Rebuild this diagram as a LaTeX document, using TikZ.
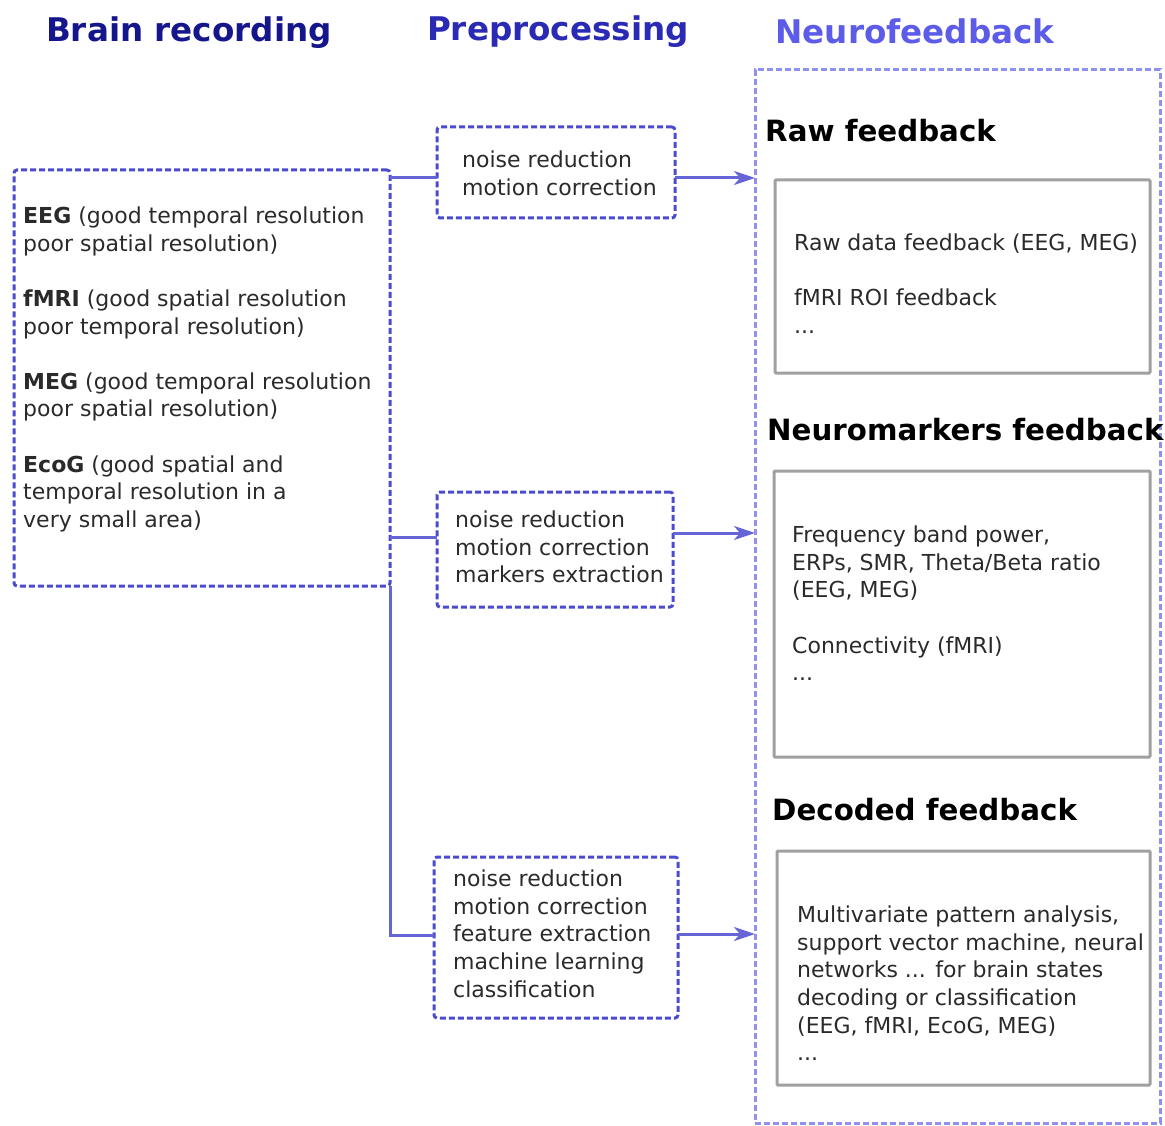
\documentclass[tikz,border=0pt]{standalone}
\usepackage{fontspec}
\setmainfont{DejaVu Sans}
\usetikzlibrary{arrows.meta}
\definecolor{hdA}{HTML}{16168C}
\definecolor{hdB}{HTML}{2A2AB4}
\definecolor{hdC}{HTML}{5C5CE8}
\definecolor{dcol}{HTML}{4B4BD0}
\definecolor{ccol}{HTML}{6565D8}
\definecolor{ocol}{HTML}{9090F0}
\definecolor{gcol}{HTML}{A0A0A0}
\definecolor{tcol}{HTML}{2A2A2A}
\begin{document}
\begin{tikzpicture}[x=1pt,y=-1pt,
  dbox/.style={draw=dcol, line width=3pt, dash pattern=on 6pt off 3pt, rounded corners=3pt, inner sep=0pt, outer sep=0pt, anchor=north west},
  obox/.style={draw=ocol, line width=3pt, dash pattern=on 6pt off 3pt, inner sep=0pt, outer sep=0pt, anchor=north west},
  gbox/.style={draw=gcol, line width=3pt, rounded corners=1pt, inner sep=0pt, outer sep=0pt, anchor=north west},
  body/.style={font=\fontsize{22}{27.6}\selectfont, text=tcol, align=left, inner sep=0pt, anchor=north west},
  ttl/.style={font=\bfseries\fontsize{29.3}{34}\selectfont, text=black, inner sep=0pt, anchor=base west},
  hdr/.style={font=\bfseries\fontsize{32.6}{36}\selectfont, inner sep=0pt, anchor=base},
  conn/.style={draw=ccol, line width=3pt},
  arr/.style={draw=ccol, line width=3pt, -{Stealth[length=21pt,width=14pt,inset=6pt]}}
]
\useasboundingbox (0,0) rectangle (1165,1126);

% headers
\node[hdr, text=hdA] (h1) at (189,42) {Brain recording};
\node[hdr, text=hdB] (h2) at (558,41) {Preprocessing};
\node[hdr, text=hdC] (h3) at (915,44) {Neurofeedback};

% left box
\node[dbox, minimum width=376pt, minimum height=416pt] (rec) at (14,170) {};
\node[body] (rectxt) at (23,204.2) {\strut\textbf{EEG} (good temporal resolution\\poor spatial resolution)\\[27.6pt]\textbf{fMRI} (good spatial resolution\\poor temporal resolution)\\[27.6pt]\textbf{MEG} (good temporal resolution\\poor spatial resolution)\\[27.6pt]\textbf{EcoG} (good spatial and\\temporal resolution in a\\very small area)};

% preprocessing boxes
\node[dbox, minimum width=238pt, minimum height=91pt] (pre1) at (437,127) {};
\node[body] (pre1t) at (462,148.2) {\strut noise reduction\\motion correction};
\node[dbox, minimum width=236pt, minimum height=115pt] (pre2) at (437,492) {};
\node[body] (pre2t) at (455,508.2) {\strut noise reduction\\motion correction\\markers extraction};
\node[dbox, minimum width=244pt, minimum height=161pt] (pre3) at (434,857) {};
\node[body] (pre3t) at (453,867.2) {\strut noise reduction\\motion correction\\feature extraction\\machine learning\\classification};

% neurofeedback outer box
\node[obox, minimum width=405pt, minimum height=1053pt] (nf) at (755,70) {};

\node[ttl] (t1) at (765,142) {Raw feedback};
\node[gbox, minimum width=375pt, minimum height=193pt] (g1) at (775,180) {};
\node[body] (g1t) at (794,231.2) {\strut Raw data feedback (EEG, MEG)\\[27.6pt]fMRI ROI feedback\\...};

\node[ttl] (t2) at (767,440) {Neuromarkers feedback};
\node[gbox, minimum width=376pt, minimum height=286pt] (g2) at (774,471) {};
\node[body] (g2t) at (792,523.2) {\strut Frequency band power,\\ERPs, SMR, Theta/Beta ratio\\(EEG, MEG)\\[27.6pt]Connectivity (fMRI)\\...};

\node[ttl] (t3) at (772,820) {Decoded feedback};
\node[gbox, minimum width=373pt, minimum height=234pt] (g3) at (777,851) {};
\node[body] (g3t) at (797,903.2) {\strut Multivariate pattern analysis,\\support vector machine, neural\\networks ... for brain states\\decoding or classification\\(EEG, fMRI, EcoG, MEG)\\...};

% connectors
\coordinate (j1) at (390,178);
\coordinate (j2) at (390,537);
\coordinate (j3) at (390,935);
\draw[conn] (j1) -- (j1 -| pre1.west);
\draw[conn] (j2) -- (j2 -| pre2.west);
\draw[conn] (rec.south -| j3) -- (j3) -- (j3 -| pre3.west);

\coordinate (a1) at (700,178);
\coordinate (a2) at (700,533);
\coordinate (a3) at (700,934);
\draw[arr] (a1 -| pre1.east) -- (a1 -| nf.west);
\draw[arr] (a2 -| pre2.east) -- (a2 -| nf.west);
\draw[arr] (a3 -| pre3.east) -- (a3 -| nf.west);
\end{tikzpicture}
\end{document}
